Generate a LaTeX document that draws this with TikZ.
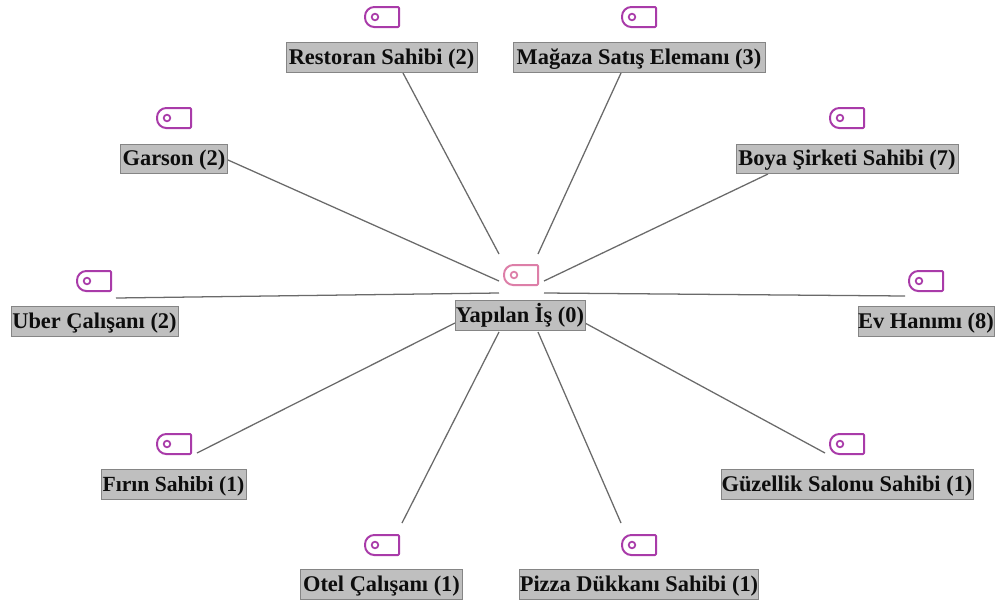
\documentclass[tikz,border=0pt]{standalone}
\usepackage{fontspec}
\setmainfont{Liberation Serif}
\definecolor{tagpurple}{HTML}{A93BA9}
\definecolor{tagpink}{HTML}{DD7FA8}
\definecolor{boxfill}{HTML}{BFBFBF}
\definecolor{boxline}{HTML}{858585}
\definecolor{linkline}{HTML}{6A6A6A}
\tikzset{
  x=0.75pt,y=-0.75pt,
  label box/.style={draw=boxline,fill=boxfill,line width=0.75pt,inner sep=0pt,minimum height=22pt,text height=12pt,text depth=2pt,text=black!95,font=\bfseries\fontsize{16.8}{18}\selectfont},
  small label/.style={font=\bfseries\fontsize{16.2}{18}\selectfont},
  link/.style={draw=linkline,line width=0.95pt},
  pics/tag/.style={code={
    \draw[#1,line width=1.5pt,line join=round,rounded corners=0.8pt]
      (17,-10) -- (17,10) -- (-7,10) [rounded corners=7pt] -- (-17,10) -- (-17,-10) [rounded corners=0.8pt] -- (-7,-10) -- cycle;
    \draw[#1,line width=1.3pt] (-7,0) circle (3.3);
  }}
}
\newcommand{\boxlabel}[6][]{\node[label box,minimum width=#5*0.75pt,#1] (#2) at (#3,#4) {#6};}
\begin{document}
\begin{tikzpicture}
\useasboundingbox (0,0) rectangle (1001,604);
\fill[white] (0,0) rectangle (1001,604);
% end points of the connectors
\coordinate (cR) at (499,254); \coordinate (eR) at (403,73);
\coordinate (cM) at (538,254); \coordinate (eM) at (621,73);
\coordinate (cG) at (499,281); \coordinate (eG) at (228,160);
\coordinate (cB) at (544,281); \coordinate (eB) at (768,174);
\coordinate (cU) at (499,293); \coordinate (eU) at (116,298);
\coordinate (cE) at (544,293); \coordinate (eE) at (905,296);
\coordinate (cF) at (455,323); \coordinate (eF) at (197,453);
\coordinate (cS) at (585,323); \coordinate (eS) at (825,453);
\coordinate (cO) at (499,332); \coordinate (eO) at (402,523);
\coordinate (cP) at (538,332); \coordinate (eP) at (621,523);
\foreach \a/\b in {cR/eR,cM/eM,cG/eG,cB/eB,cU/eU,cE/eE,cF/eF,cS/eS,cO/eO,cP/eP}
  \draw[link] (\a) -- (\b);
% icons
\pic at (521,275) {tag=tagpink};
\foreach \x/\y in {382/17,639/17,174/118,847/118,94/281,926/281,174/444,847/444,382/545,639/545}
  \pic at (\x,\y) {tag=tagpurple};
% labels
\boxlabel{yi}{520}{315.5}{130}{Yapılan İş (0)}
\boxlabel{rs}{381.5}{57.5}{191}{Restoran Sahibi (2)}
\boxlabel{ms}{639}{57.5}{252}{Mağaza Satış Elemanı (3)}
\boxlabel{ga}{174}{159}{107}{Garson (2)}
\boxlabel{bs}{847}{159}{222}{Boya Şirketi Sahibi (7)}
\boxlabel{uc}{94.5}{321.5}{167}{Uber Çalışanı (2)}
\boxlabel{eh}{926}{321.5}{136}{Ev Hanımı (8)}
\boxlabel[small label]{fs}{173.5}{484.5}{145}{Fırın Sahibi (1)}
\boxlabel{gs}{847}{484.5}{252}{Güzellik Salonu Sahibi (1)}
\boxlabel{oc}{381.5}{584.5}{162}{Otel Çalışanı (1)}
\boxlabel{ps}{639}{584.5}{239}{Pizza Dükkanı Sahibi (1)}
\end{tikzpicture}
\end{document}
